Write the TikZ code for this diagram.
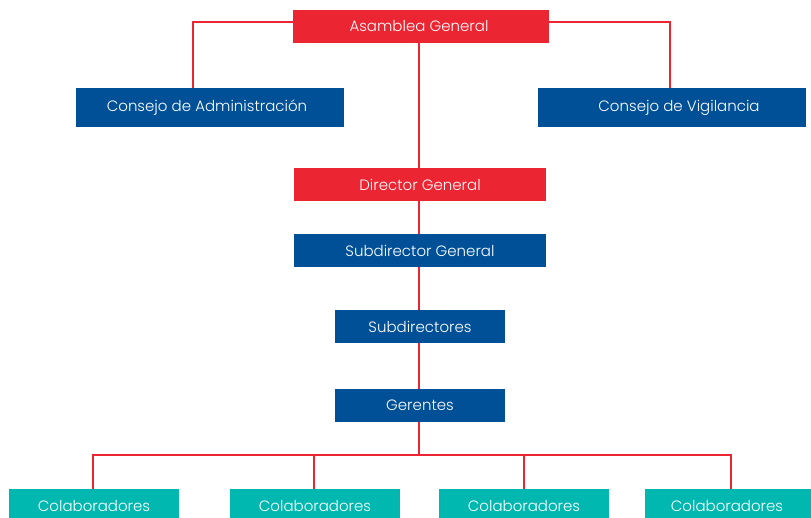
\documentclass[tikz,border=0pt]{standalone}
\usepackage{fontspec}
\IfFontExistsTF{Poppins Light}{\setmainfont{Poppins Light}}{\setmainfont{Poppins}}
\definecolor{rojo}{HTML}{EC2533}
\definecolor{azul}{HTML}{005098}
\definecolor{verde}{HTML}{00B8B0}
\begin{document}
\begin{tikzpicture}[x=1pt,y=-1pt,
  box/.style={inner sep=0pt, text=white, font=\fontsize{15}{17}\selectfont},
  rbox/.style={box, fill=rojo},
  bbox/.style={box, fill=azul},
  tbox/.style={box, fill=verde},
  link/.style={draw=rojo, line width=2pt}]
\useasboundingbox (0,0) rectangle (811,517);
\newcommand{\orgbox}[6]{%
  \node[#1, minimum width=#4-#2, minimum height=#5-#3] (#6) at ({(#2+#4)/2},{(#3+#5)/2}) {};}
\orgbox{rbox}{293}{10}{549}{43}{ag}
\orgbox{bbox}{76}{88}{344}{127}{ca}
\orgbox{bbox}{538}{88}{806}{127}{cv}
\orgbox{rbox}{294}{168}{546}{201}{dg}
\orgbox{bbox}{294}{234}{546}{267}{sg}
\orgbox{bbox}{335}{310}{505}{343}{sd}
\orgbox{bbox}{335}{389}{505}{422}{ge}
\orgbox{tbox}{9}{489}{179}{521}{c1}
\orgbox{tbox}{230}{489}{400}{521}{c2}
\orgbox{tbox}{439}{489}{609}{521}{c3}
\orgbox{tbox}{645}{489}{815}{521}{c4}
\node[box] at ([xshift=-2pt]ag.center) {Asamblea General};
\node[box] at ([xshift=-3pt]ca.center) {Consejo de Administración};
\node[box] at ([xshift=7pt]cv.center) {Consejo de Vigilancia};
\node[box] at (dg.center) {Director General};
\node[box] at (sg.center) {Subdirector General};
\node[box] at (sd.center) {Subdirectores};
\node[box] at (ge.center) {Gerentes};
\node[box] at ([yshift=-1pt]c1.center) {Colaboradores};
\node[box] at ([yshift=-1pt]c2.center) {Colaboradores};
\node[box] at ([yshift=-1pt]c3.center) {Colaboradores};
\node[box] at ([xshift=-3pt,yshift=-1pt]c4.center) {Colaboradores};
\coordinate (gl) at (193,22);
\coordinate (gr) at (670,22);
\coordinate (bus) at (419,455);
\draw[link] (ag.west |- gl) -| (ca.north -| gl);
\draw[link] (ag.east |- gr) -| (cv.north -| gr);
\draw[link] (ag.south -| bus) -- (dg.north -| bus);
\draw[link] (dg.south -| bus) -- (sg.north -| bus);
\draw[link] (sg.south -| bus) -- (sd.north -| bus);
\draw[link] (sd.south -| bus) -- (ge.north -| bus);
\draw[link] (ge.south -| bus) -- (bus);
\draw[link] (c1.north -| 93,0) |- (bus) -| (c4.north -| 731,0);
\draw[link] (c2.north -| 314,0) -- (314,455);
\draw[link] (c3.north -| 524,0) -- (524,455);
\end{tikzpicture}
\end{document}
